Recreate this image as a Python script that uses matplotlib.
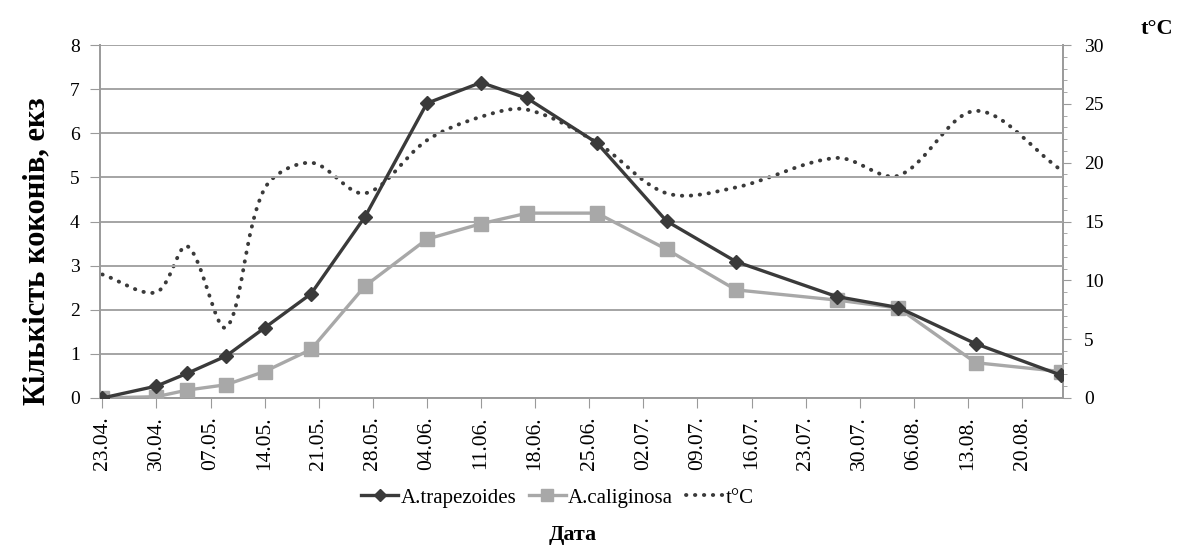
import matplotlib
matplotlib.use('Agg')
import matplotlib.pyplot as plt
import matplotlib.dates as mdates
from matplotlib.path import Path
from matplotlib.patches import PathPatch
from matplotlib.lines import Line2D
from matplotlib.ticker import MultipleLocator
import numpy as np
import pandas as pd

plt.rcParams['font.family'] = ['Liberation Serif', 'DejaVu Serif']

# дати відбору проб
dates = ['23.04', '30.04', '04.05', '09.05', '14.05', '20.05', '27.05', '04.06',
         '11.06', '17.06', '26.06', '05.07', '14.07', '27.07', '04.08', '14.08',
         '25.08']
trapezoides = [0, 0.27, 0.56, 0.95, 1.59, 2.36, 4.11, 6.68, 7.15, 6.79, 5.78,
               4.01, 3.09, 2.30, 2.05, 1.23, 0.52]
caliginosa = [0, 0.03, 0.18, 0.30, 0.60, 1.10, 2.54, 3.60, 3.95, 4.19, 4.19,
              3.37, 2.45, 2.22, 2.04, 0.80, 0.60]
temperature = [10.5, 9.0, 12.9, 6.0, 17.8, 20.0, 17.4, 21.9, 23.9, 24.5, 21.7,
               17.4, 17.9, 20.4, 18.9, 24.4, 19.4]
tick_start, tick_end = '23.04', '20.08'

x = mdates.date2num(pd.to_datetime([d + '.2015' for d in dates], format='%d.%m.%Y'))
ticks = pd.date_range(pd.to_datetime(tick_start + '.2015', format='%d.%m.%Y'),
                      pd.to_datetime(tick_end + '.2015', format='%d.%m.%Y'), freq='7D')


def smooth_path(a, xs, ys):
    # згладжена лінія (криві Безьє через точки, рахуємо в пікселях)
    p = a.transData.transform(np.column_stack([xs, ys]))
    n = len(p)
    verts = [p[0]]
    codes = [Path.MOVETO]
    for i in range(n - 1):
        p0 = p[i - 1] if i > 0 else p[i]
        p1, p2 = p[i], p[i + 1]
        p3 = p[i + 2] if i + 2 < n else p[i + 1]
        d01 = np.hypot(*(p1 - p0))
        d12 = np.hypot(*(p2 - p1))
        d23 = np.hypot(*(p3 - p2))
        w1 = d12 / (d01 + d12) if d01 + d12 > 0 else 0
        w2 = d12 / (d12 + d23) if d12 + d23 > 0 else 0
        c1 = p1 + (p2 - p0) * w1 / 3
        c2 = p2 - (p3 - p1) * w2 / 3
        verts += [c1, c2, p2]
        codes += [Path.CURVE4] * 3
    verts = a.transData.inverted().transform(np.array(verts))
    return Path(verts, codes)


dark = '#3a3a3a'
light = '#a8a8a8'
axcol = '#9a9a9a'

fig = plt.figure(figsize=(11.83, 5.58), dpi=100)
ax = fig.add_axes([100 / 1183, 1 - 398 / 558, 963 / 1183, 353 / 558])
ax2 = ax.twinx()
ax.set_zorder(ax2.get_zorder() + 1)
ax.patch.set_visible(False)

xmin, xmax = x[0] - 0.3, x[-1] + 0.3
ax.set_xlim(xmin, xmax)
ax.set_ylim(0, 8)
ax2.set_ylim(0, 30)

# температура
ax2.add_patch(PathPatch(smooth_path(ax2, x, temperature), fill=False, edgecolor=dark,
                        lw=2.8, linestyle=(0, (0.1, 2.2)), capstyle='round'))

# A.caliginosa
ax.plot(x, caliginosa, color=light, lw=2.4, marker='s', ms=9.5, mec=light,
        mfc=light, zorder=3)
# A.trapezoides
ax.plot(x, trapezoides, color=dark, lw=2.4, marker='D', ms=7.5, zorder=4)

ax.set_xticks(mdates.date2num(ticks))
ax.set_xticklabels([t.strftime('%d.%m.') for t in ticks], rotation=90, fontsize=15.5)
ax.set_yticks(range(0, 9))
ax.tick_params(axis='y', labelsize=14, length=7, color=axcol, pad=7.5)
ax.tick_params(axis='x', length=7, color=axcol, pad=6)
ax.grid(axis='y', color='#a4a4a4', lw=1.4)
ax.set_axisbelow(True)

ax2.yaxis.set_major_locator(MultipleLocator(5))
ax2.yaxis.set_minor_locator(MultipleLocator(1))
ax2.tick_params(axis='y', which='major', labelsize=14, length=6, color=axcol, pad=9)
ax2.tick_params(axis='y', which='minor', length=3, color=axcol)

for a in (ax, ax2):
    for s in a.spines.values():
        s.set_visible(False)
ax.spines['left'].set_visible(True)
ax.spines['bottom'].set_visible(True)
ax2.spines['right'].set_visible(True)
for s in (ax.spines['left'], ax.spines['bottom'], ax2.spines['right']):
    s.set_color(axcol)
    s.set_linewidth(1.4)

fig.text(37 / 1183, 1 - 251 / 558, 'Кількість коконів, екз', rotation=90,
         ha='center', va='center', fontsize=22, fontweight='bold')
fig.text(1157 / 1183, 1 - 29 / 558, 't°C', ha='center', va='center',
         fontsize=16, fontweight='bold')
fig.text(573 / 1183, 1 - 535 / 558, 'Дата', ha='center', va='center',
         fontsize=16, fontweight='bold')

handles = [
    Line2D([], [], color=dark, lw=2.4, marker='D', ms=6),
    Line2D([], [], color=light, lw=2.4, marker='s', ms=8),
    Line2D([], [], color=dark, lw=2.8, linestyle=(0, (0.1, 2.2)), dash_capstyle='round'),
]
fig.legend(handles, ['A.trapezoides', 'A.caliginosa', 't°C'], loc='center',
           bbox_to_anchor=(557 / 1183, 1 - 498 / 558), ncol=3, frameon=False,
           fontsize=15, handlelength=1.8, handletextpad=0.1, columnspacing=0.6)

fig.savefig('out.png', dpi=100)
